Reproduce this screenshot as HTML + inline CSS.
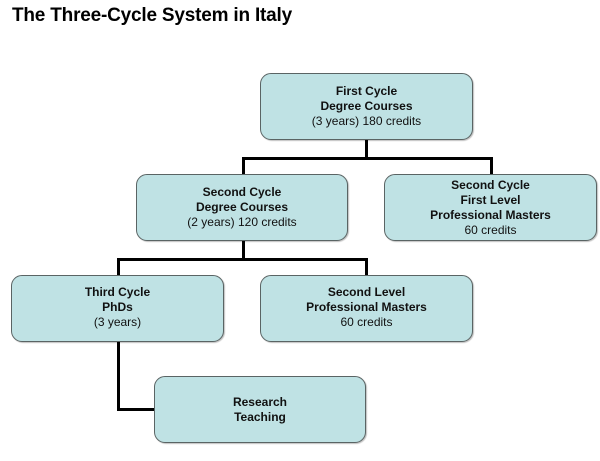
<!DOCTYPE html>
<html><head><style>
body{margin:0;width:600px;height:461px;background:#fff;position:relative;overflow:hidden;font-family:"Liberation Sans",Arial,sans-serif}
h1{position:absolute;left:12px;top:5px;margin:0;font-size:19px;font-weight:bold;color:#000;letter-spacing:-0.2px}
.b{position:absolute;box-sizing:border-box;background:#bfe2e4;border:1.5px solid #5a6464;border-radius:11px;display:flex;flex-direction:column;justify-content:center;align-items:center;text-align:center;font-size:12px;line-height:15px;color:#111;box-shadow:1px 1px 1px rgba(0,0,0,.25)}
.b b{font-weight:bold}
.l{position:absolute;background:#000}
</style></head><body>
<h1>The Three-Cycle System in Italy</h1>
<div class="l" style="left:365px;top:139px;width:3px;height:21px"></div>
<div class="l" style="left:242px;top:157px;width:251px;height:3px"></div>
<div class="l" style="left:242px;top:157px;width:3px;height:18px"></div>
<div class="l" style="left:490px;top:157px;width:3px;height:18px"></div>
<div class="l" style="left:242px;top:241px;width:3px;height:19px"></div>
<div class="l" style="left:117px;top:258px;width:251px;height:3px"></div>
<div class="l" style="left:117px;top:258px;width:3px;height:18px"></div>
<div class="l" style="left:365px;top:258px;width:3px;height:18px"></div>
<div class="l" style="left:117px;top:342px;width:3px;height:69px"></div>
<div class="l" style="left:117px;top:408px;width:38px;height:3px"></div>
<div class="b" style="left:260px;top:73px;width:213px;height:67px"><b>First Cycle</b><b>Degree Courses</b><span>(3 years) 180 credits</span></div>
<div class="b" style="left:136px;top:174px;width:212px;height:67px"><b>Second Cycle</b><b>Degree Courses</b><span>(2 years) 120 credits</span></div>
<div class="b" style="left:384px;top:174px;width:213px;height:67px"><b>Second Cycle</b><b>First Level</b><b>Professional Masters</b><span>60 credits</span></div>
<div class="b" style="left:11px;top:275px;width:213px;height:67px;justify-content:flex-start;padding-top:9px"><b>Third Cycle</b><b>PhDs</b><span>(3 years)</span></div>
<div class="b" style="left:260px;top:275px;width:213px;height:67px;justify-content:flex-start;padding-top:9px"><b>Second Level</b><b>Professional Masters</b><span>60 credits</span></div>
<div class="b" style="left:154px;top:376px;width:212px;height:67px"><b>Research</b><b>Teaching</b></div>
</body></html>
